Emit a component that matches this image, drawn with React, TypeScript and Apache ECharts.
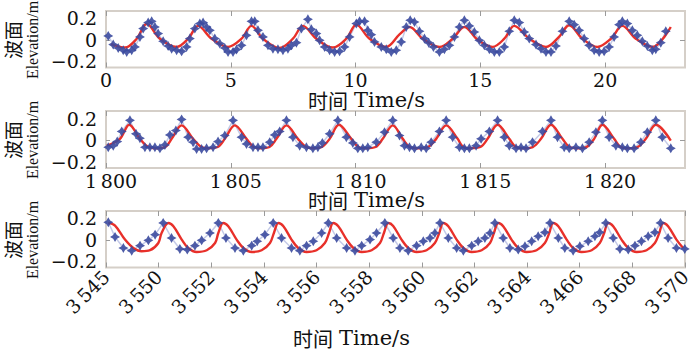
import { useEffect, useRef } from "react";
import * as echarts from "echarts";

// ---------- data (time in s, elevation in m) ----------
const P1_TICKS = [0, 5, 10, 15, 20];
const P2_TICKS = [1800, 1805, 1810, 1815, 1820];
const P3_LABELS = ["3\u2009545", "3\u2009550", "3\u2009552", "3\u2009554", "3\u2009556", "3\u2009558", "3\u2009560", "3\u2009562", "3\u2009564", "3\u2009466", "3\u2009568", "3\u2009570"];
const Y_LABELS = [-0.2, 0, 0.2];

const P1_MEASURED: [number, number][] = [
  [0.09, 0.036], [0.29, -0.045], [0.49, -0.077], [0.69, -0.098], [0.83, -0.114], [1.03, -0.098], [1.16, -0.067], [1.36, 0.027], [1.49, 0.105], [1.69, 0.161], [1.83, 0.173], [1.96, 0.12], [2.09, 0.058], [2.29, -0.014], [2.49, -0.058], [2.63, -0.083], [2.83, -0.098], [3.03, -0.108], [3.23, -0.067], [3.36, 0.011], [3.56, 0.105], [3.76, 0.152], [3.89, 0.161], [4.03, 0.12], [4.16, 0.089], [4.36, 0.011], [4.56, -0.036], [4.76, -0.077], [4.89, -0.114], [5.09, -0.114], [5.23, -0.092], [5.43, -0.052], [5.63, 0.042], [5.83, 0.173], [5.96, 0.173], [6.09, 0.089], [6.29, 0.027], [6.49, -0.052], [6.69, -0.083], [6.89, -0.089], [7.09, -0.098], [7.29, -0.083], [7.43, -0.052], [7.63, -0.027], [7.83, 0.105], [8.09, 0.192], [8.23, 0.098], [8.43, 0.058], [8.56, -0.005], [8.76, -0.067], [8.96, -0.098], [9.16, -0.114], [9.36, -0.108], [9.56, -0.067], [9.76, 0.027], [10.03, 0.152], [10.16, 0.173], [10.36, 0.173], [10.49, 0.089], [10.63, 0.048], [10.76, -0.02], [11.03, -0.067], [11.23, -0.089], [11.43, -0.114], [11.63, -0.098], [11.83, -0.02], [12.03, 0.12], [12.19, 0.183], [12.36, 0.167], [12.56, 0.08], [12.76, 0.011], [12.93, -0.027], [13.12, -0.067], [13.36, -0.114], [13.56, -0.089], [13.76, -0.052], [13.96, 0.027], [14.16, 0.12], [14.36, 0.183], [14.56, 0.13], [14.76, 0.073], [14.96, -0.005], [15.16, -0.052], [15.36, -0.089], [15.56, -0.114], [15.76, -0.114], [15.96, -0.067], [16.16, 0.08], [16.36, 0.183], [16.56, 0.161], [16.76, 0.073], [16.96, 0.011], [17.23, -0.045], [17.43, -0.083], [17.63, -0.114], [17.83, -0.114], [18.03, -0.058], [18.29, 0.08], [18.56, 0.173], [18.76, 0.142], [18.96, 0.089], [19.16, 0.011], [19.36, -0.052], [19.56, -0.098], [19.76, -0.114], [19.96, -0.108], [20.16, -0.067], [20.36, 0.027], [20.56, 0.142], [20.69, 0.173], [20.89, 0.152], [21.09, 0.089], [21.29, 0.042], [21.49, -0.014], [21.69, -0.058], [21.89, -0.098], [22.03, -0.089], [22.23, -0.027], [22.43, 0.08],
];
const P1_SIMULATED: [number, number][] = [
  [0.2, -0.04], [0.76, -0.073], [1.23, 0.01], [1.63, 0.15], [2.16, 0.01], [2.83, -0.067], [3.29, 0.01], [3.69, 0.13], [4.23, 0.01], [4.89, -0.067], [5.43, 0.01], [5.83, 0.13], [6.29, 0.01], [6.96, -0.077], [7.49, 0.01], [7.89, 0.13], [8.43, 0.01], [9.09, -0.073], [9.63, 0.01], [10.03, 0.142], [10.56, 0.01], [11.23, -0.067], [11.76, 0.05], [12.16, 0.12], [12.69, 0.01], [13.36, -0.067], [13.89, 0.01], [14.36, 0.12], [14.89, 0.0], [15.49, -0.067], [15.96, 0.01], [16.36, 0.13], [16.96, 0.01], [17.63, -0.067], [18.16, 0.03], [18.56, 0.136], [19.09, 0.01], [19.69, -0.067], [20.23, 0.01], [20.69, 0.13], [21.23, 0.01], [21.89, -0.067], [22.63, 0.12],
];

const P2_MEASURED: [number, number][] = [
  [1800.09, -0.067], [1800.29, -0.052], [1800.45, -0.014], [1800.63, 0.08], [1800.96, 0.183], [1801.2, 0.058], [1801.36, 0.017], [1801.56, -0.067], [1801.76, -0.067], [1801.96, -0.067], [1802.16, -0.077], [1802.36, -0.045], [1802.56, 0.048], [1802.8, 0.089], [1803.03, 0.192], [1803.29, 0.027], [1803.49, -0.02], [1803.63, -0.083], [1803.83, -0.083], [1804.03, -0.077], [1804.29, -0.067], [1804.49, -0.014], [1804.76, 0.042], [1805.09, 0.183], [1805.43, 0.027], [1805.63, -0.036], [1805.89, -0.067], [1806.09, -0.067], [1806.29, -0.067], [1806.56, -0.02], [1806.76, 0.048], [1806.96, 0.08], [1807.23, 0.183], [1807.49, 0.027], [1807.76, -0.052], [1808.03, -0.067], [1808.29, -0.077], [1808.49, -0.067], [1808.67, -0.027], [1808.96, 0.058], [1809.29, 0.183], [1809.63, 0.027], [1809.89, -0.027], [1810.09, -0.077], [1810.29, -0.077], [1810.49, -0.067], [1810.83, -0.02], [1811.16, 0.073], [1811.49, 0.183], [1811.76, 0.042], [1811.96, -0.052], [1812.16, -0.067], [1812.36, -0.077], [1812.63, -0.067], [1812.83, -0.077], [1813.03, -0.02], [1813.36, 0.08], [1813.63, 0.183], [1813.89, 0.027], [1814.16, -0.067], [1814.36, -0.077], [1814.56, -0.077], [1814.83, -0.052], [1815.03, 0.011], [1815.36, 0.08], [1815.69, 0.183], [1815.96, 0.027], [1816.16, -0.052], [1816.43, -0.077], [1816.63, -0.067], [1816.83, -0.077], [1817.09, -0.02], [1817.49, 0.08], [1817.83, 0.183], [1818.09, 0.027], [1818.36, -0.067], [1818.56, -0.077], [1818.83, -0.067], [1819.09, -0.077], [1819.36, -0.02], [1819.63, 0.073], [1819.89, 0.183], [1820.16, 0.027], [1820.43, -0.052], [1820.69, -0.067], [1820.89, -0.077], [1821.16, -0.077], [1821.43, -0.02], [1821.69, 0.073], [1822.03, 0.183], [1822.29, 0.027], [1822.63, -0.077],
];
const P2_SIMULATED: [number, number][] = [
  [1800.03, -0.052], [1800.56, 0.011], [1800.93, 0.142], [1801.36, 0.011], [1801.68, -0.062], [1802.03, -0.077], [1802.38, -0.065], [1802.63, 0.011], [1803.03, 0.136], [1803.49, 0.011], [1803.8, -0.062], [1804.1, -0.077], [1804.48, -0.065], [1804.76, 0.011], [1805.16, 0.136], [1805.63, 0.011], [1805.9, -0.062], [1806.2, -0.077], [1806.55, -0.065], [1806.83, 0.011], [1807.23, 0.136], [1807.69, 0.011], [1808.0, -0.062], [1808.3, -0.077], [1808.65, -0.065], [1808.96, 0.011], [1809.33, 0.142], [1809.83, 0.011], [1810.1, -0.062], [1810.43, -0.077], [1810.8, -0.065], [1811.09, 0.011], [1811.49, 0.136], [1811.89, 0.011], [1812.15, -0.062], [1812.45, -0.077], [1812.9, -0.065], [1813.23, 0.011], [1813.63, 0.136], [1814.09, 0.011], [1814.3, -0.062], [1814.6, -0.077], [1815.0, -0.065], [1815.29, 0.011], [1815.69, 0.142], [1816.16, 0.011], [1816.4, -0.062], [1816.7, -0.077], [1817.1, -0.065], [1817.43, 0.011], [1817.83, 0.142], [1818.29, 0.011], [1818.55, -0.062], [1818.85, -0.077], [1819.25, -0.065], [1819.56, 0.011], [1819.89, 0.142], [1820.36, 0.011], [1820.6, -0.062], [1820.9, -0.077], [1821.3, -0.065], [1821.63, 0.011], [1822.03, 0.142], [1822.63, -0.005],
];

const P3_MEASURED: [number, number][] = [
  [3545.1, 0.164], [3545.39, 0.027], [3545.75, -0.077], [3546.11, -0.102], [3546.47, -0.055], [3546.83, -0.005], [3547.12, 0.048], [3547.47, 0.158], [3547.83, 0.017], [3548.19, -0.086], [3548.51, -0.092], [3548.84, -0.055], [3549.13, -0.005], [3549.49, 0.064], [3549.85, 0.158], [3550.18, 0.017], [3550.57, -0.077], [3550.93, -0.102], [3551.29, -0.055], [3551.53, -0.014], [3551.86, 0.048], [3552.22, 0.158], [3552.58, 0.017], [3553.01, -0.077], [3553.37, -0.102], [3553.66, -0.055], [3553.95, -0.014], [3554.31, 0.064], [3554.6, 0.158], [3554.96, 0.017], [3555.39, -0.077], [3555.75, -0.102], [3556.04, -0.055], [3556.4, 0.002], [3556.68, 0.064], [3557.04, 0.158], [3557.4, 0.017], [3557.69, -0.077], [3558.05, -0.102], [3558.41, -0.055], [3558.7, -0.014], [3558.99, 0.017], [3559.2, 0.064], [3559.42, 0.158], [3559.78, 0.017], [3560.14, -0.077], [3560.43, -0.102], [3560.79, -0.055], [3561.07, -0.014], [3561.36, 0.017], [3561.58, 0.064], [3561.79, 0.158], [3562.15, 0.017], [3562.44, -0.077], [3562.8, -0.092], [3563.09, -0.061], [3563.38, -0.014], [3563.66, 0.033], [3563.95, 0.07], [3564.17, 0.158], [3564.53, 0.017], [3564.81, -0.077], [3565.17, -0.102], [3565.46, -0.061], [3565.82, -0.014], [3566.11, 0.033], [3566.32, 0.07], [3566.58, 0.158], [3566.9, 0.017], [3567.19, -0.086], [3567.55, -0.092], [3567.84, -0.055], [3568.12, -0.014], [3568.41, 0.033], [3568.7, 0.07], [3568.94, 0.158], [3569.27, 0.017], [3569.63, -0.077], [3569.99, -0.086],
];
const P3_SIMULATED: [number, number][] = [
  [3545.1, 0.158], [3545.39, 0.133], [3545.82, 0.002], [3546.18, -0.077], [3546.54, -0.108], [3546.9, -0.098], [3547.26, -0.03], [3547.4, 0.064], [3547.69, 0.158], [3547.91, 0.127], [3548.27, 0.002], [3548.55, -0.077], [3548.91, -0.114], [3549.35, -0.098], [3549.71, -0.03], [3549.85, 0.064], [3550.06, 0.158], [3550.28, 0.127], [3550.64, 0.002], [3550.93, -0.077], [3551.29, -0.114], [3551.72, -0.098], [3552.08, -0.03], [3552.25, 0.064], [3552.44, 0.158], [3552.66, 0.127], [3553.01, 0.002], [3553.3, -0.077], [3553.66, -0.114], [3554.09, -0.098], [3554.45, -0.03], [3554.63, 0.064], [3554.81, 0.158], [3555.03, 0.127], [3555.39, 0.002], [3555.68, -0.077], [3556.04, -0.114], [3556.47, -0.098], [3556.83, -0.03], [3557.0, 0.064], [3557.19, 0.158], [3557.4, 0.13], [3557.76, 0.002], [3558.05, -0.077], [3558.41, -0.114], [3558.84, -0.098], [3559.2, -0.03], [3559.39, 0.064], [3559.56, 0.158], [3559.78, 0.127], [3560.14, 0.002], [3560.43, -0.077], [3560.79, -0.114], [3561.22, -0.098], [3561.58, -0.03], [3561.75, 0.064], [3561.94, 0.158], [3562.15, 0.127], [3562.51, 0.002], [3562.8, -0.077], [3563.16, -0.114], [3563.59, -0.098], [3563.95, -0.03], [3564.14, 0.064], [3564.31, 0.158], [3564.53, 0.127], [3564.89, 0.002], [3565.17, -0.077], [3565.53, -0.114], [3565.97, -0.098], [3566.32, -0.03], [3566.51, 0.064], [3566.68, 0.158], [3566.9, 0.127], [3567.26, 0.002], [3567.55, -0.077], [3567.91, -0.114], [3568.34, -0.098], [3568.7, -0.03], [3568.89, 0.064], [3569.06, 0.158], [3569.27, 0.127], [3569.63, 0.002], [3569.92, -0.077],
];

// ---------- styles ----------
const SERIF = "DejaVu Serif";
const TXT = "#111";
const TICK = "#9a9a9a";
const RED = "#e8302a";
const BLUE = "#3b4a9e";
const LIGHT = "#c4cae8";
const STAR = "path://M0,-6 L2.2,-2.2 L6,0 L2.2,2.2 L0,6 L-2.2,2.2 L-6,0 L-2.2,-2.2 Z";
const Y_MIN = -0.26;
const Y_MAX = 0.27;

const fmtY = (v: number) => (v === 0 ? "0" : v < 0 ? "\u2212" + Math.abs(v).toFixed(1) : v.toFixed(1));
const fmtThousand = (v: number) => {
  const s = String(Math.round(v));
  return s.slice(0, s.length - 3) + "\u2009" + s.slice(-3);
};

function yPair(g: number) {
  return [
    {
      type: "value", gridIndex: g, min: Y_MIN, max: Y_MAX,
      axisLine: { show: false, onZero: false }, splitLine: { show: false },
      axisTick: { show: true, inside: true, length: 4, customValues: [0], lineStyle: { color: TICK } },
      axisLabel: { customValues: Y_LABELS, formatter: fmtY, fontFamily: SERIF, fontSize: 19, color: TXT, margin: 9, padding: [5, 0, 0, 0] },
    },
    {
      type: "value", gridIndex: g, position: "right", min: Y_MIN, max: Y_MAX,
      axisLine: { show: false, onZero: false }, splitLine: { show: false }, axisLabel: { show: false },
      axisTick: { show: true, inside: true, length: 5, customValues: [0], lineStyle: { color: TICK } },
    },
  ];
}

function valueX(g: number, min: number, max: number, ticks: number[], top: boolean, fmt?: (v: number) => string, pad?: number[]) {
  return {
    type: "value", gridIndex: g, min, max, position: top ? "top" : "bottom",
    axisLine: { show: false, onZero: false }, splitLine: { show: false },
    axisTick: { show: true, inside: true, length: 5, customValues: ticks, lineStyle: { color: TICK } },
    axisLabel: top
      ? { show: false }
      : { customValues: ticks, formatter: fmt, fontFamily: SERIF, fontSize: 19, lineHeight: 19, color: TXT, margin: 3, padding: pad || 0 },
  };
}

function seriesFor(xi: number, yi: number, meas: [number, number][], sim: [number, number][]) {
  return [
    { type: "line", xAxisIndex: xi, yAxisIndex: yi, data: meas, showSymbol: false, lineStyle: { color: LIGHT, width: 1.5 }, z: 1 },
    { type: "line", xAxisIndex: xi, yAxisIndex: yi, data: sim, showSymbol: false, smooth: 0.35, lineStyle: { color: RED, width: 2.4 }, z: 2 },
    { type: "scatter", xAxisIndex: xi, yAxisIndex: yi, data: meas, symbol: STAR, symbolSize: 10, itemStyle: { color: BLUE, opacity: 0.9 }, z: 3 },
  ];
}

function yName(cy: number) {
  return [
    { type: "text", x: 12, y: cy, rotation: Math.PI / 2, style: { text: "波面", font: '19px "Noto Sans CJK SC"', fill: TXT, align: "center", verticalAlign: "middle" } },
    { type: "text", x: 32, y: cy, rotation: Math.PI / 2, style: { text: "Elevation/m", font: '16px "Liberation Serif"', fill: TXT, align: "center", verticalAlign: "middle" } },
  ];
}

function xName(cx: number, cy: number) {
  return [
    { type: "text", x: cx - 26, y: cy, style: { text: "时间", font: '20px "Noto Sans CJK SC"', fill: TXT, align: "right", verticalAlign: "middle", lineHeight: 22 } },
    { type: "text", x: cx - 20, y: cy, style: { text: "Time/s", font: '21px "DejaVu Serif"', fill: TXT, align: "left", verticalAlign: "middle", lineHeight: 18 } },
  ];
}

export default function App() {
  const ref = useRef<HTMLDivElement>(null);
  useEffect(() => {
    document.body.style.margin = "0";
    const chart = echarts.init(ref.current!, null, { renderer: "svg" });
    const gridBase = { left: 106, width: 579, show: true, borderColor: "#d5cfc8", borderWidth: 2, backgroundColor: "#fff" };
    chart.setOption({
      animation: false,
      backgroundColor: "#fff",
      grid: [
        { ...gridBase, top: 11, height: 56.5 },
        { ...gridBase, top: 111, height: 57 },
        { ...gridBase, top: 211, height: 56.5 },
      ],
      xAxis: [
        valueX(0, 0, 23.2, P1_TICKS, false, (v: number) => String(v)),
        valueX(0, 0, 23.2, P1_TICKS, true),
        valueX(1, 1800, 1823.2, P2_TICKS, false, fmtThousand, [0, 0, 0, 10]),
        valueX(1, 1800, 1823.2, P2_TICKS, true),
        {
          type: "category", gridIndex: 2, data: P3_LABELS, boundaryGap: false,
          axisLine: { show: false, onZero: false }, splitLine: { show: false },
          axisTick: { show: true, inside: true, length: 5, interval: 0, lineStyle: { color: TICK } },
          axisLabel: { interval: 0, rotate: 45, fontFamily: SERIF, fontSize: 19, color: TXT, margin: 6 },
        },
        {
          type: "category", gridIndex: 2, data: P3_LABELS, boundaryGap: false, position: "top",
          axisLine: { show: false, onZero: false }, splitLine: { show: false }, axisLabel: { show: false },
          axisTick: { show: true, inside: true, length: 5, interval: 0, lineStyle: { color: TICK } },
        },
        { type: "value", gridIndex: 2, min: 3545, max: 3570, show: false, axisLine: { onZero: false } },
      ],
      yAxis: [...yPair(0), ...yPair(1), ...yPair(2)],
      series: [
        ...seriesFor(0, 0, P1_MEASURED, P1_SIMULATED),
        ...seriesFor(2, 2, P2_MEASURED, P2_SIMULATED),
        ...seriesFor(6, 4, P3_MEASURED, P3_SIMULATED),
      ],
      graphic: [
        ...yName(40), ...yName(140), ...yName(240),
        ...xName(374, 100), ...xName(374, 200), ...xName(359, 338),
      ],
    });
    return () => chart.dispose();
  }, []);
  return <div ref={ref} style={{ width: 700, height: 352 }} />;
}
